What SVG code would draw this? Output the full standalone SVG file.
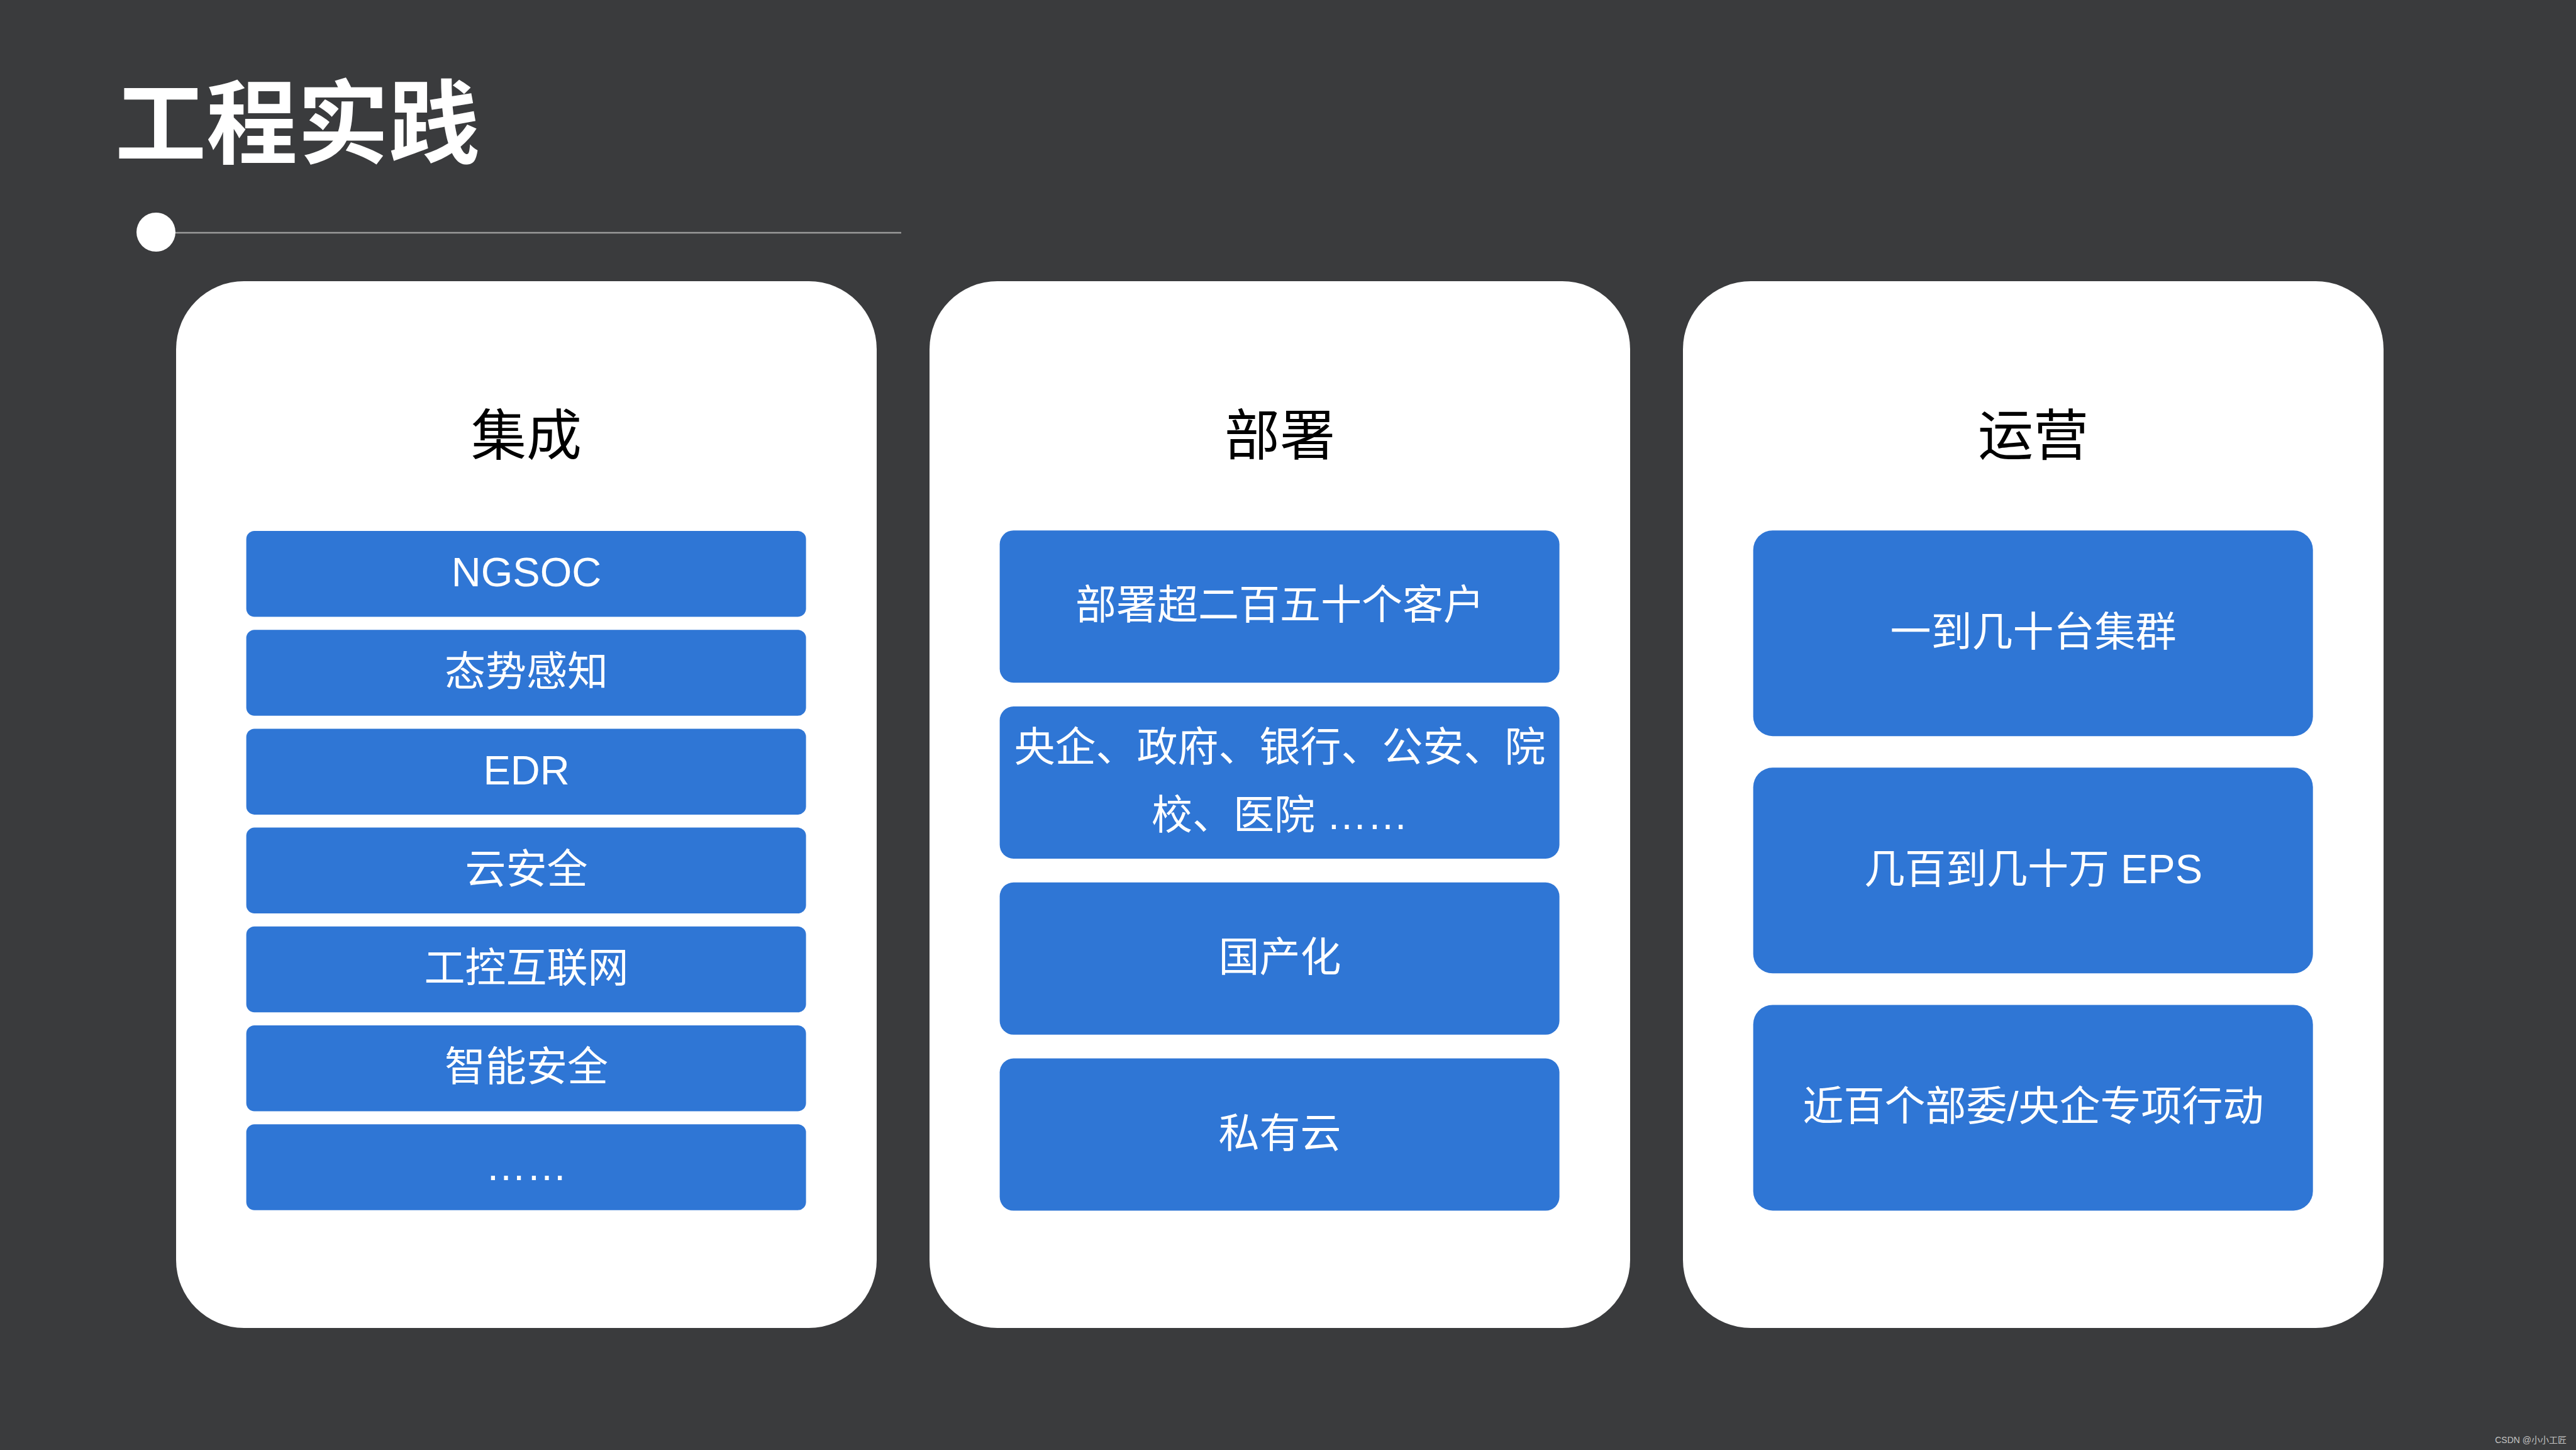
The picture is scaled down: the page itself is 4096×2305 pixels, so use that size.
<svg xmlns="http://www.w3.org/2000/svg" width="4096" height="2305" viewBox="0 0 4096 2305">
  <style>
    .bg { fill: #3a3b3d; }
    .card { fill: #ffffff; }
    .box { fill: #2f76d5; }
    .title { font-family: "Noto Sans CJK SC", "Liberation Sans", sans-serif; font-weight: 700; font-size: 145px; fill: #ffffff; }
    .head { font-family: "Noto Sans CJK SC", "Liberation Sans", sans-serif; font-size: 88px; fill: #000000; text-anchor: middle; }
    .lbl { font-family: "Liberation Sans", "Noto Sans CJK SC", sans-serif; font-size: 65px; fill: #ffffff; text-anchor: middle; }
    .wm { font-family: "Liberation Sans", "Noto Sans CJK SC", sans-serif; font-size: 14px; fill: #c4c4c4; text-anchor: end; }
  </style>
  <rect class="bg" x="0" y="0" width="4096" height="2305"/>

  <g id="header">
    <text class="title" x="183" y="249">工程实践</text>
    <line x1="270" y1="370" x2="1433" y2="370" stroke="#9a9a9a" stroke-width="2.5"/>
    <circle cx="248" cy="369" r="31" fill="#ffffff"/>
  </g>

  <g id="connectors"></g>

  <g id="card-integration">
    <rect class="card" x="280" y="447" width="1114" height="1664" rx="108" ry="108"/>
    <text class="head" x="837" y="723">集成</text>
    <g id="c1-b1"><rect class="box" x="391.6" y="844" width="890" height="136.5" rx="13"/><text class="lbl" x="837" y="932">NGSOC</text></g>
    <g id="c1-b2"><rect class="box" x="391.6" y="1001.2" width="890" height="136.5" rx="13"/><text class="lbl" x="837" y="1089.5">态势感知</text></g>
    <g id="c1-b3"><rect class="box" x="391.6" y="1158.4" width="890" height="136.5" rx="13"/><text class="lbl" x="837" y="1246.7">EDR</text></g>
    <g id="c1-b4"><rect class="box" x="391.6" y="1315.6" width="890" height="136.5" rx="13"/><text class="lbl" x="837" y="1403.9">云安全</text></g>
    <g id="c1-b5"><rect class="box" x="391.6" y="1472.8" width="890" height="136.5" rx="13"/><text class="lbl" x="837" y="1561">工控互联网</text></g>
    <g id="c1-b6"><rect class="box" x="391.6" y="1630" width="890" height="136.5" rx="13"/><text class="lbl" x="837" y="1718.3">智能安全</text></g>
    <g id="c1-b7"><rect class="box" x="391.6" y="1787.2" width="890" height="136.5" rx="13"/><text class="lbl" x="837" y="1875.5">……</text></g>
  </g>

  <g id="card-deploy">
    <rect class="card" x="1478" y="447" width="1114" height="1664" rx="108" ry="108"/>
    <text class="head" x="2035" y="723">部署</text>
    <g id="c2-b1"><rect class="box" x="1589.6" y="843.2" width="890" height="242" rx="22"/><text class="lbl" x="2035" y="984">部署超二百五十个客户</text></g>
    <g id="c2-b2"><rect class="box" x="1589.6" y="1123" width="890" height="242" rx="22"/><text class="lbl" x="2035" y="1210">央企、政府、银行、公安、院</text><text class="lbl" x="2035" y="1318">校、医院 ……</text></g>
    <g id="c2-b3"><rect class="box" x="1589.6" y="1402.8" width="890" height="242" rx="22"/><text class="lbl" x="2035" y="1544">国产化</text></g>
    <g id="c2-b4"><rect class="box" x="1589.6" y="1682.6" width="890" height="242" rx="22"/><text class="lbl" x="2035" y="1824">私有云</text></g>
  </g>

  <g id="card-operate">
    <rect class="card" x="2676" y="447" width="1114" height="1664" rx="108" ry="108"/>
    <text class="head" x="3233" y="723">运营</text>
    <g id="c3-b1"><rect class="box" x="2787.7" y="843.2" width="890" height="327" rx="31"/><text class="lbl" x="3233" y="1027">一到几十台集群</text></g>
    <g id="c3-b2"><rect class="box" x="2787.7" y="1220.3" width="890" height="327" rx="31"/><text class="lbl" x="3233" y="1404">几百到几十万 EPS</text></g>
    <g id="c3-b3"><rect class="box" x="2787.7" y="1597.4" width="890" height="327" rx="31"/><text class="lbl" x="3233" y="1781">近百个部委/央企专项行动</text></g>
  </g>

  <text class="wm" x="4081" y="2294">CSDN @小小工匠</text>
</svg>
